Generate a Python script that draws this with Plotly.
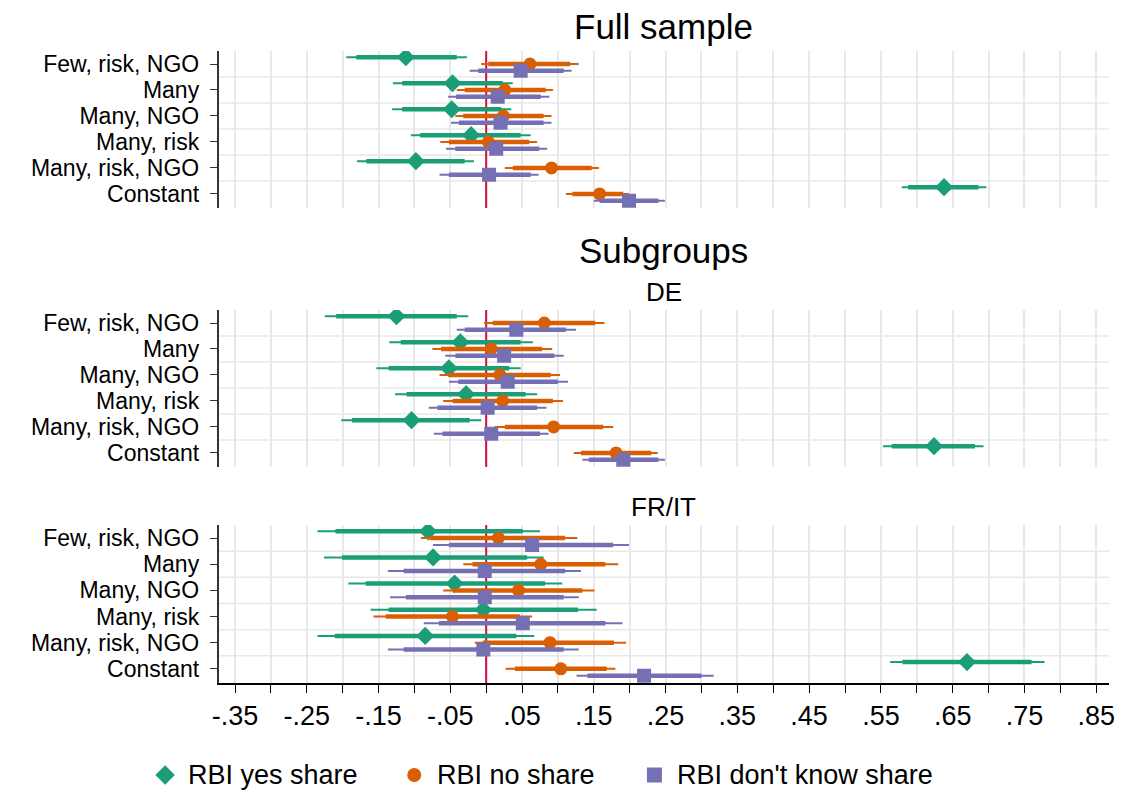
import plotly.graph_objects as go

# ---------------- data ----------------
categories = ["Few, risk, NGO", "Many", "Many, NGO", "Many, risk", "Many, risk, NGO", "Constant"]
series_names = ["RBI yes share", "RBI no share", "RBI don't know share"]
panel_titles = ["Full sample", "DE", "FR/IT"]

x_tickvals = [-0.35, -0.25, -0.15, -0.05, 0.05, 0.15, 0.25, 0.35, 0.45, 0.55, 0.65, 0.75, 0.85]
x_ticktext = ["-.35", "-.25", "-.15", "-.05", ".05", ".15", ".25", ".35", ".45", ".55", ".65", ".75", ".85"]

# Full sample
yes_full_b = [-0.112, -0.047, -0.048, -0.021, -0.098, 0.638]
yes_full_lo95 = [-0.195, -0.130, -0.131, -0.105, -0.180, 0.579]
yes_full_hi95 = [-0.027, 0.037, 0.035, 0.062, -0.017, 0.697]
yes_full_lo90 = [-0.181, -0.117, -0.117, -0.092, -0.167, 0.588]
yes_full_hi90 = [-0.041, 0.023, 0.021, 0.048, -0.030, 0.686]

no_full_b = [0.061, 0.026, 0.024, 0.003, 0.091, 0.158]
no_full_lo95 = [-0.007, -0.041, -0.043, -0.064, 0.026, 0.111]
no_full_hi95 = [0.129, 0.093, 0.091, 0.071, 0.157, 0.199]
no_full_lo90 = [0.003, -0.030, -0.032, -0.052, 0.037, 0.120]
no_full_hi90 = [0.117, 0.083, 0.080, 0.060, 0.147, 0.191]

dk_full_b = [0.048, 0.016, 0.020, 0.014, 0.004, 0.199]
dk_full_lo95 = [-0.023, -0.053, -0.049, -0.056, -0.065, 0.150]
dk_full_hi95 = [0.119, 0.088, 0.091, 0.085, 0.073, 0.249]
dk_full_lo90 = [-0.011, -0.042, -0.038, -0.043, -0.052, 0.158]
dk_full_hi90 = [0.108, 0.076, 0.080, 0.074, 0.062, 0.240]

# DE
yes_de_b = [-0.125, -0.036, -0.052, -0.028, -0.104, 0.624]
yes_de_lo95 = [-0.225, -0.135, -0.153, -0.127, -0.202, 0.553]
yes_de_hi95 = [-0.025, 0.065, 0.048, 0.071, -0.007, 0.693]
yes_de_lo90 = [-0.209, -0.119, -0.136, -0.111, -0.187, 0.565]
yes_de_hi90 = [-0.041, 0.048, 0.032, 0.055, -0.023, 0.681]

no_de_b = [0.081, 0.007, 0.019, 0.023, 0.094, 0.181]
no_de_lo95 = [-0.003, -0.075, -0.065, -0.060, 0.012, 0.122]
no_de_hi95 = [0.165, 0.092, 0.103, 0.107, 0.177, 0.239]
no_de_lo90 = [0.009, -0.063, -0.052, -0.047, 0.026, 0.132]
no_de_hi90 = [0.152, 0.078, 0.090, 0.093, 0.163, 0.230]

dk_de_b = [0.042, 0.025, 0.030, 0.002, 0.007, 0.191]
dk_de_lo95 = [-0.041, -0.057, -0.052, -0.080, -0.073, 0.134]
dk_de_hi95 = [0.125, 0.108, 0.114, 0.084, 0.087, 0.249]
dk_de_lo90 = [-0.030, -0.043, -0.039, -0.068, -0.061, 0.143]
dk_de_hi90 = [0.111, 0.095, 0.100, 0.071, 0.075, 0.240]

# FR/IT
yes_fr_b = [-0.081, -0.074, -0.044, -0.004, -0.085, 0.670]
yes_fr_lo95 = [-0.235, -0.226, -0.192, -0.161, -0.235, 0.563]
yes_fr_hi95 = [0.075, 0.080, 0.106, 0.154, 0.067, 0.778]
yes_fr_lo90 = [-0.210, -0.201, -0.168, -0.136, -0.211, 0.580]
yes_fr_hi90 = [0.051, 0.057, 0.082, 0.128, 0.042, 0.760]

no_fr_b = [0.017, 0.076, 0.045, -0.047, 0.089, 0.104]
no_fr_lo95 = [-0.091, -0.032, -0.060, -0.157, -0.016, 0.027]
no_fr_hi95 = [0.127, 0.184, 0.151, 0.064, 0.195, 0.180]
no_fr_lo90 = [-0.079, -0.019, -0.047, -0.140, -0.005, 0.040]
no_fr_hi90 = [0.110, 0.166, 0.134, 0.047, 0.178, 0.168]

dk_fr_b = [0.064, -0.002, -0.002, 0.051, -0.004, 0.220]
dk_fr_lo95 = [-0.074, -0.137, -0.134, -0.087, -0.137, 0.126]
dk_fr_hi95 = [0.199, 0.132, 0.129, 0.190, 0.129, 0.317]
dk_fr_lo90 = [-0.052, -0.115, -0.112, -0.066, -0.115, 0.141]
dk_fr_hi90 = [0.177, 0.110, 0.108, 0.166, 0.108, 0.300]

# ---------------- styling ----------------
W, H = 1123, 793
FONT = "Liberation Sans, Arial, sans-serif"
colors = ["#1b9e77", "#d95f02", "#7570b3"]
symbols = ["diamond", "circle", "square"]
msizes = [14, 13, 14]
offsets = [-0.26, 0.0, 0.26]
GRID = "#e8e8e8"
YRANGE = [6.54, 0.5]

panels = [
    [(yes_full_b, yes_full_lo95, yes_full_hi95, yes_full_lo90, yes_full_hi90),
     (no_full_b, no_full_lo95, no_full_hi95, no_full_lo90, no_full_hi90),
     (dk_full_b, dk_full_lo95, dk_full_hi95, dk_full_lo90, dk_full_hi90)],
    [(yes_de_b, yes_de_lo95, yes_de_hi95, yes_de_lo90, yes_de_hi90),
     (no_de_b, no_de_lo95, no_de_hi95, no_de_lo90, no_de_hi90),
     (dk_de_b, dk_de_lo95, dk_de_hi95, dk_de_lo90, dk_de_hi90)],
    [(yes_fr_b, yes_fr_lo95, yes_fr_hi95, yes_fr_lo90, yes_fr_hi90),
     (no_fr_b, no_fr_lo95, no_fr_hi95, no_fr_lo90, no_fr_hi90),
     (dk_fr_b, dk_fr_lo95, dk_fr_hi95, dk_fr_lo90, dk_fr_hi90)],
]

# pixel layout of the panels (top, bottom)
panel_px = [(51, 208), (310, 467), (525, 683)]
x_left_px, x_right_px = 214, 1115
XRANGE = [-0.373, 0.868]


def py(px):
    return 1 - px / H


fig = go.Figure()

cat_pos = list(range(1, len(categories) + 1))
mid_pos = [c + 0.5 for c in cat_pos[:-1]]

for p, panel in enumerate(panels):
    xa = "x" if p == 0 else f"x{p + 1}"
    ya = "y" if p == 0 else f"y{p + 1}"
    # horizontal grid lines between categories
    gx, gy = [], []
    for m in mid_pos:
        gx += [XRANGE[0], XRANGE[1], None]
        gy += [m, m, None]
    fig.add_trace(go.Scatter(x=gx, y=gy, mode="lines", xaxis=xa, yaxis=ya,
                             line=dict(color=GRID, width=1.5), showlegend=False, hoverinfo="skip"))
    # zero reference line
    fig.add_trace(go.Scatter(x=[0, 0], y=[YRANGE[1], YRANGE[0]], mode="lines", xaxis=xa, yaxis=ya,
                             line=dict(color="#d0103a", width=2), showlegend=False, hoverinfo="skip"))
    for s, (b, lo95, hi95, lo90, hi90) in enumerate(panel):
        ys = [c + offsets[s] for c in cat_pos]
        # thin (95%) CI
        xx, yy = [], []
        for i in range(len(b)):
            xx += [lo95[i], hi95[i], None]
            yy += [ys[i], ys[i], None]
        fig.add_trace(go.Scatter(x=xx, y=yy, mode="lines", xaxis=xa, yaxis=ya,
                                 line=dict(color=colors[s], width=2), showlegend=False,
                                 hoverinfo="skip"))
        # thick (90%) CI
        xx, yy = [], []
        for i in range(len(b)):
            xx += [lo90[i], hi90[i], None]
            yy += [ys[i], ys[i], None]
        fig.add_trace(go.Scatter(x=xx, y=yy, mode="lines", xaxis=xa, yaxis=ya,
                                 line=dict(color=colors[s], width=4.5), showlegend=False,
                                 hoverinfo="skip"))
        # point estimates
        fig.add_trace(go.Scatter(x=b, y=ys, mode="markers", xaxis=xa, yaxis=ya,
                                 marker=dict(color=colors[s], symbol=symbols[s], size=msizes[s],
                                             line=dict(width=0)),
                                 name=series_names[s], showlegend=False))

# legend built on a helper axis (x in pixels, y in paper units)
leg_marker_px = [160, 412, 655]
leg_y = py(775)
for s in range(3):
    fig.add_trace(go.Scatter(x=[leg_marker_px[s]], y=[leg_y], mode="markers",
                             xaxis="x4", yaxis="y4",
                             marker=dict(color=colors[s], symbol=symbols[s], size=msizes[s] + 1,
                                         line=dict(width=0)),
                             showlegend=False, hoverinfo="skip"))
    fig.add_annotation(x=(leg_marker_px[s] + 21) / W, y=leg_y, xref="paper", yref="paper",
                       text=series_names[s], showarrow=False, xanchor="left", yanchor="middle",
                       font=dict(size=27, color="black", family=FONT))

grid_vals = [round(-0.35 + 0.05 * k, 2) for k in range(25)]
grid_text = []
for v in grid_vals:
    match = [t for tv, t in zip(x_tickvals, x_ticktext) if abs(tv - v) < 1e-9]
    grid_text.append(match[0] if match else "")

layout = dict(
    width=W, height=H,
    margin=dict(l=0, r=0, t=0, b=0),
    paper_bgcolor="white", plot_bgcolor="white",
    font=dict(family=FONT, color="black"),
    showlegend=False,
)

xdom = [x_left_px / W, x_right_px / W]
for p, (top, bot) in enumerate(panel_px):
    xk = "xaxis" if p == 0 else f"xaxis{p + 1}"
    yk = "yaxis" if p == 0 else f"yaxis{p + 1}"
    last = p == 2
    layout[xk] = dict(
        domain=xdom, range=XRANGE, anchor="y" if p == 0 else f"y{p + 1}",
        tickmode="array", tickvals=grid_vals,
        ticktext=grid_text if last else [""] * len(grid_vals),
        showgrid=True, gridcolor=GRID, gridwidth=1.5, zeroline=False,
        showline=last, linecolor="black", linewidth=1.5,
        ticks="outside" if last else "", ticklen=8, tickwidth=1.2, tickcolor="black",
        tickfont=dict(size=27, color="black", family=FONT),
        showticklabels=last,
    )
    layout[yk] = dict(
        domain=[py(bot), py(top)], range=YRANGE, anchor="x" if p == 0 else f"x{p + 1}",
        tickmode="array", tickvals=cat_pos, ticktext=categories,
        showgrid=False, zeroline=False,
        showline=True, linecolor="#333333", linewidth=1.5,
        ticks="outside", ticklen=7, tickwidth=1.2, tickcolor="#333333",
        ticklabelstandoff=6,
        tickfont=dict(size=23, color="black", family=FONT),
    )

layout["xaxis4"] = dict(domain=[0, 1], range=[0, W], visible=False, anchor="y4", fixedrange=True)
layout["yaxis4"] = dict(domain=[0, 0.06], range=[0, 0.06], visible=False, anchor="x4", fixedrange=True)

fig.update_layout(**layout)

# titles
cx = (x_left_px + x_right_px) / 2 / W
fig.add_annotation(x=cx, y=py(27), xref="paper", yref="paper", text="Full sample", showarrow=False,
                   xanchor="center", yanchor="middle", font=dict(size=35, color="black", family=FONT))
fig.add_annotation(x=cx, y=py(250), xref="paper", yref="paper", text="Subgroups", showarrow=False,
                   xanchor="center", yanchor="middle", font=dict(size=35, color="black", family=FONT))
fig.add_annotation(x=cx, y=py(292), xref="paper", yref="paper", text="DE", showarrow=False,
                   xanchor="center", yanchor="middle", font=dict(size=26, color="black", family=FONT))
fig.add_annotation(x=cx, y=py(507), xref="paper", yref="paper", text="FR/IT", showarrow=False,
                   xanchor="center", yanchor="middle", font=dict(size=26, color="black", family=FONT))

fig.write_html("out.html")
